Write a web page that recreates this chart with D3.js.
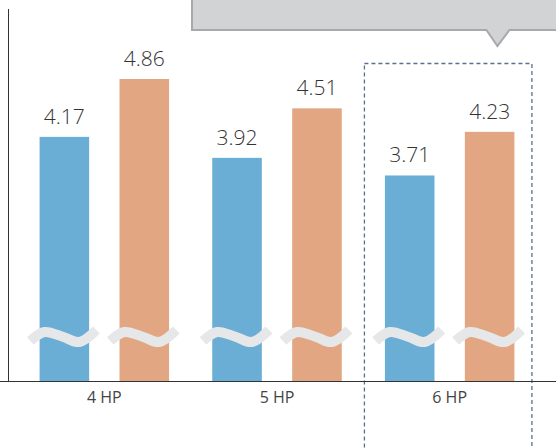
<!DOCTYPE html>
<html>
<head>
<meta charset="utf-8">
<script src="https://cdn.jsdelivr.net/npm/d3@7"></script>
<style>
  html, body { margin: 0; padding: 0; background: #fff; }
  svg { display: block; font-family: "Open Sans", "Noto Sans", sans-serif; }
</style>
</head>
<body>
<div id="chart"></div>
<script>
'use strict';

// data
var categories = ['4 HP', '5 HP', '6 HP'];
var seriesKeys = ['before', 'after'];
var beforeValues = [4.17, 3.92, 3.71];
var afterValues = [4.86, 4.51, 4.23];
var highlighted = '6 HP';

var colors = { before: '#6aadd5', after: '#e2a682' };

var width = 556, height = 448;
var baseY = 381;

var svg = d3.select('#chart').append('svg')
	.attr('width', width)
	.attr('height', height);

// scales (value axis is truncated, hence the break marks)
var x = d3.scaleBand()
	.domain(categories)
	.range([18, 536])
	.paddingInner(0.25)
	.paddingOuter(0.125);
var xSub = d3.scaleBand()
	.domain(seriesKeys)
	.range([0, x.bandwidth()])
	.paddingInner(0.38);
var y = d3.scaleLinear()
	.domain([1.26, 4.86])
	.range([baseY, 79]);

var rows = categories.map(function(c, i) {
	return { cat: c, before: beforeValues[i], after: afterValues[i] };
});

// callout box at the top
var tipX = x(highlighted) + x.bandwidth() - 17;
svg.append('path')
	.attr('d', 'M192,-4 L192,30 L' + (tipX - 11) + ',30 L' + tipX + ',46 L' + (tipX + 12) + ',30 L560,30 L560,-4 Z')
	.attr('fill', '#d1d3d4')
	.attr('stroke', '#a7a9ac')
	.attr('stroke-width', 2);

// dashed highlight frame
svg.append('rect')
	.attr('x', x(highlighted) - 20.5)
	.attr('y', 63.5)
	.attr('width', x.bandwidth() + 38)
	.attr('height', 420)
	.attr('fill', 'none')
	.attr('stroke', '#5a6f92')
	.attr('stroke-width', 1.3)
	.attr('stroke-dasharray', '4,3');

// bars
var groups = svg.append('g').selectAll('g')
	.data(rows)
	.enter().append('g')
		.attr('transform', function(d) { return 'translate(' + x(d.cat) + ',0)'; });

var bars = groups.selectAll('g.bar')
	.data(function(d) {
		return seriesKeys.map(function(k) { return { key: k, value: d[k] }; });
	})
	.enter().append('g')
		.attr('class', 'bar');

bars.append('rect')
	.attr('x', function(d) { return xSub(d.key); })
	.attr('y', function(d) { return y(d.value); })
	.attr('width', xSub.bandwidth())
	.attr('height', function(d) { return baseY - y(d.value); })
	.attr('fill', function(d) { return colors[d.key]; });

bars.append('text')
	.attr('x', function(d) { return xSub(d.key) + xSub.bandwidth() / 2; })
	.attr('y', function(d) { return y(d.value) - 13; })
	.attr('text-anchor', 'middle')
	.attr('font-size', 21)
	.attr('font-weight', 300)
	.attr('fill', '#333')
	.text(function(d) { return d.value.toFixed(2); });

// axis break waves
var wave = d3.line().curve(d3.curveCatmullRom);
var wavePts = [[-34, 5], [-20, -4], [-1, 1], [15, 6], [32, -6]];
bars.append('path')
	.attr('d', wave(wavePts))
	.attr('transform', function(d) {
		return 'translate(' + (xSub(d.key) + xSub.bandwidth() / 2) + ',336)';
	})
	.attr('fill', 'none')
	.attr('stroke', '#e6e7e8')
	.attr('stroke-width', 10);

// axes
svg.append('line')
	.attr('x1', 0).attr('x2', width)
	.attr('y1', baseY + 0.5).attr('y2', baseY + 0.5)
	.attr('stroke', '#333');
svg.append('line')
	.attr('x1', 8.5).attr('x2', 8.5)
	.attr('y1', 9).attr('y2', baseY)
	.attr('stroke', '#333');

svg.append('g').selectAll('text')
	.data(categories)
	.enter().append('text')
		.attr('x', function(c) { return x(c) + x.bandwidth() / 2; })
		.attr('y', 403)
		.attr('text-anchor', 'middle')
		.attr('font-size', 16)
		.attr('fill', '#444')
		.text(function(c) { return c; });
</script>
</body>
</html>
